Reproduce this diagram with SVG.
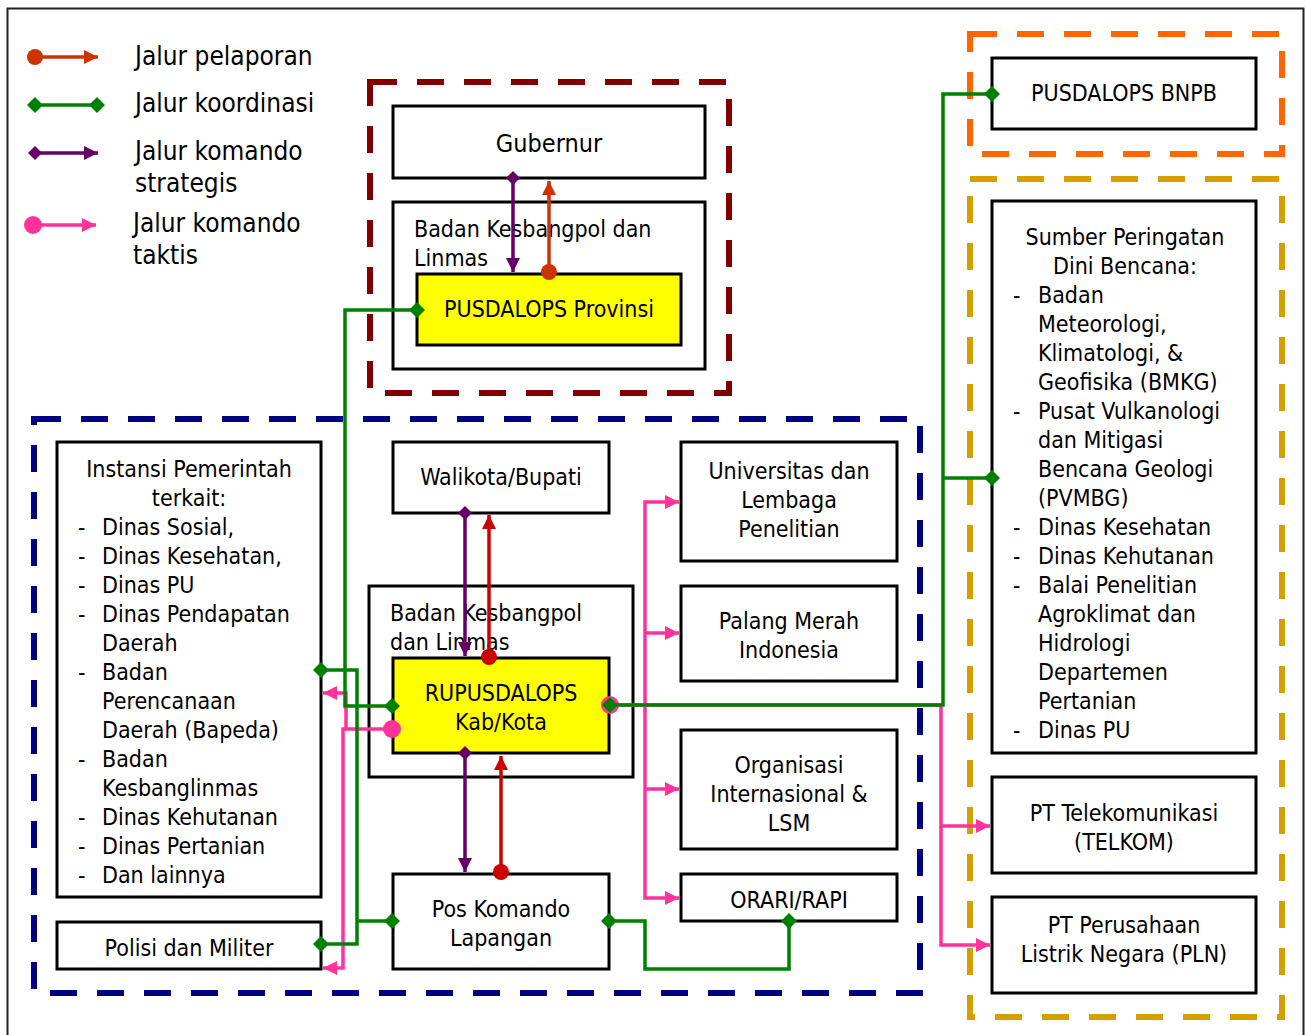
<svg xmlns="http://www.w3.org/2000/svg" width="1306" height="1035" viewBox="0 0 1306 1035">
<style>
text{font-family:"DejaVu Sans Condensed","DejaVu Sans",sans-serif;font-stretch:condensed;font-size:23px;fill:#000}
.c{text-anchor:middle}
.lg{font-size:26px}
.box{fill:#fff;stroke:#000;stroke-width:3}
.open{fill:none;stroke:#000;stroke-width:3}
.yel{fill:#ffff00;stroke:#000;stroke-width:3}
.dash{fill:none;stroke-width:6;stroke-dasharray:27 20}
.ln{fill:none;stroke-width:3.5}
.rep{stroke:#cc3300}
.red{stroke:#cc0000}
.grn{stroke:#008000}
.pur{stroke:#660066}
.pnk{stroke:#ff3399}
</style>
<defs>
<marker id="aRep" markerUnits="userSpaceOnUse" markerWidth="16" markerHeight="16" refX="15" refY="8" orient="auto"><path d="M1,1 L15,8 L1,15 z" fill="#cc3300"/></marker>
<marker id="aRed" markerUnits="userSpaceOnUse" markerWidth="16" markerHeight="16" refX="15" refY="8" orient="auto"><path d="M1,1 L15,8 L1,15 z" fill="#cc0000"/></marker>
<marker id="aPur" markerUnits="userSpaceOnUse" markerWidth="16" markerHeight="16" refX="15" refY="8" orient="auto"><path d="M1,1 L15,8 L1,15 z" fill="#660066"/></marker>
<marker id="aPnk" markerUnits="userSpaceOnUse" markerWidth="16" markerHeight="16" refX="15" refY="8" orient="auto"><path d="M1,1 L15,8 L1,15 z" fill="#ff3399"/></marker>
<marker id="dGrn" markerUnits="userSpaceOnUse" markerWidth="16" markerHeight="16" refX="8" refY="8" orient="auto"><path d="M0,8 L8,0 L16,8 L8,16 z" fill="#008000"/></marker>
<marker id="dPur" markerUnits="userSpaceOnUse" markerWidth="16" markerHeight="16" refX="8" refY="8" orient="auto"><path d="M1,8 L8,1 L15,8 L8,15 z" fill="#660066"/></marker>
<marker id="cRep" markerUnits="userSpaceOnUse" markerWidth="18" markerHeight="18" refX="9" refY="9" orient="auto"><circle cx="9" cy="9" r="8" fill="#cc3300"/></marker>
<marker id="cRed" markerUnits="userSpaceOnUse" markerWidth="18" markerHeight="18" refX="9" refY="9" orient="auto"><circle cx="9" cy="9" r="8" fill="#cc0000"/></marker>
<marker id="cPnk" markerUnits="userSpaceOnUse" markerWidth="20" markerHeight="20" refX="10" refY="10" orient="auto"><circle cx="10" cy="10" r="9" fill="#ff3399"/></marker>
</defs>
<rect x="0" y="0" width="1306" height="1035" fill="#fff"/>
<rect x="7.5" y="8.5" width="1296" height="1040" fill="none" stroke="#222" stroke-width="2"/>

<!-- legend -->
<g id="legend">
<path class="ln rep" d="M35,57 H98" marker-start="url(#cRep)" marker-end="url(#aRep)"/>
<text class="lg" x="135" y="65">Jalur pelaporan</text>
<path class="ln grn" d="M35,105 H97" marker-start="url(#dGrn)" marker-end="url(#dGrn)"/>
<text class="lg" x="135" y="112">Jalur koordinasi</text>
<path class="ln pur" d="M35,153 H98" marker-start="url(#dPur)" marker-end="url(#aPur)"/>
<text class="lg" x="135" y="160">Jalur komando</text>
<text class="lg" x="135" y="192">strategis</text>
<path class="ln pnk" d="M33,225 H96" marker-start="url(#cPnk)" marker-end="url(#aPnk)"/>
<text class="lg" x="133" y="232">Jalur komando</text>
<text class="lg" x="133" y="264">taktis</text>
</g>

<!-- group frames -->
<g id="frames">
<rect class="dash" x="370" y="82" width="359" height="311" stroke="#800000"/>
<rect class="dash" x="970" y="34" width="312" height="120" stroke="#ff6600"/>
<rect class="dash" x="970" y="179" width="312" height="838" stroke="#d4a000"/>
<rect class="dash" x="34" y="419" width="886" height="574" stroke="#000080"/>
</g>

<!-- nodes -->
<g id="gubernur"><rect class="box" x="393" y="106" width="312" height="72"/><text class="c" x="549" y="152" style="font-size:25px">Gubernur</text></g>
<g id="kesbangpol-prov"><rect class="open" x="393" y="202" width="312" height="167"/><text x="414" y="237">Badan Kesbangpol dan</text><text x="414" y="266">Linmas</text></g>
<g id="pusdalops-prov"><rect class="yel" x="417" y="274" width="264" height="71"/><text class="c" x="549" y="317">PUSDALOPS Provinsi</text></g>
<g id="pusdalops-bnpb"><rect class="box" x="992" y="58" width="264" height="71"/><text class="c" x="1124" y="101">PUSDALOPS BNPB</text></g>
<g id="sumber"><rect class="open" x="992" y="201" width="264" height="552"/>
<text class="c" x="1125" y="245">Sumber Peringatan</text>
<text class="c" x="1125" y="274">Dini Bencana:</text>
<text x="1013" y="303">-</text><text x="1038" y="303">Badan</text>
<text x="1038" y="332">Meteorologi,</text>
<text x="1038" y="361">Klimatologi, &amp;</text>
<text x="1038" y="390">Geofisika (BMKG)</text>
<text x="1013" y="419">-</text><text x="1038" y="419">Pusat Vulkanologi</text>
<text x="1038" y="448">dan Mitigasi</text>
<text x="1038" y="477">Bencana Geologi</text>
<text x="1038" y="506">(PVMBG)</text>
<text x="1013" y="535">-</text><text x="1038" y="535">Dinas Kesehatan</text>
<text x="1013" y="564">-</text><text x="1038" y="564">Dinas Kehutanan</text>
<text x="1013" y="593">-</text><text x="1038" y="593">Balai Penelitian</text>
<text x="1038" y="622">Agroklimat dan</text>
<text x="1038" y="651">Hidrologi</text>
<text x="1038" y="680">Departemen</text>
<text x="1038" y="709">Pertanian</text>
<text x="1013" y="738">-</text><text x="1038" y="738">Dinas PU</text>
</g>
<g id="telkom"><rect class="box" x="992" y="777" width="264" height="96"/><text class="c" x="1124" y="821">PT Telekomunikasi</text><text class="c" x="1124" y="850">(TELKOM)</text></g>
<g id="pln"><rect class="box" x="992" y="897" width="264" height="96"/><text class="c" x="1124" y="933">PT Perusahaan</text><text class="c" x="1124" y="962">Listrik Negara (PLN)</text></g>
<g id="instansi"><rect class="open" x="57" y="442" width="264" height="455"/>
<text class="c" x="189" y="477">Instansi Pemerintah</text>
<text class="c" x="189" y="506">terkait:</text>
<text x="78" y="535">-</text><text x="102" y="535">Dinas Sosial,</text>
<text x="78" y="564">-</text><text x="102" y="564">Dinas Kesehatan,</text>
<text x="78" y="593">-</text><text x="102" y="593">Dinas PU</text>
<text x="78" y="622">-</text><text x="102" y="622">Dinas Pendapatan</text>
<text x="102" y="651">Daerah</text>
<text x="78" y="680">-</text><text x="102" y="680">Badan</text>
<text x="102" y="709">Perencanaan</text>
<text x="102" y="738">Daerah (Bapeda)</text>
<text x="78" y="767">-</text><text x="102" y="767">Badan</text>
<text x="102" y="796">Kesbanglinmas</text>
<text x="78" y="825">-</text><text x="102" y="825">Dinas Kehutanan</text>
<text x="78" y="854">-</text><text x="102" y="854">Dinas Pertanian</text>
<text x="78" y="883">-</text><text x="102" y="883">Dan lainnya</text>
</g>
<g id="polisi"><rect class="open" x="57" y="922" width="264" height="47"/><text class="c" x="189" y="956">Polisi dan Militer</text></g>
<g id="walikota"><rect class="box" x="393" y="442" width="216" height="71"/><text class="c" x="501" y="485">Walikota/Bupati</text></g>
<g id="kesbangpol-kab"><rect class="open" x="369" y="586" width="264" height="191"/><text x="390" y="621">Badan Kesbangpol</text><text x="390" y="650">dan Linmas</text></g>
<g id="rupusdalops"><rect class="yel" x="393" y="658" width="216" height="95"/><text class="c" x="501" y="701">RUPUSDALOPS</text><text class="c" x="501" y="730">Kab/Kota</text></g>
<g id="poskomando"><rect class="box" x="393" y="874" width="216" height="95"/><text class="c" x="501" y="917">Pos Komando</text><text class="c" x="501" y="946">Lapangan</text></g>
<g id="universitas"><rect class="box" x="681" y="442" width="216" height="119"/><text class="c" x="789" y="479">Universitas dan</text><text class="c" x="789" y="508">Lembaga</text><text class="c" x="789" y="537">Penelitian</text></g>
<g id="pmi"><rect class="box" x="681" y="586" width="216" height="95"/><text class="c" x="789" y="629">Palang Merah</text><text class="c" x="789" y="658">Indonesia</text></g>
<g id="organisasi"><rect class="box" x="681" y="730" width="216" height="119"/><text class="c" x="789" y="773">Organisasi</text><text class="c" x="789" y="802">Internasional &amp;</text><text class="c" x="789" y="831">LSM</text></g>
<g id="orari"><rect class="box" x="681" y="874" width="216" height="47"/><text class="c" x="789" y="908">ORARI/RAPI</text></g>

<!-- connectors -->
<g id="connectors">
<path class="ln pur" d="M513,178 V272" marker-start="url(#dPur)" marker-end="url(#aPur)"/>
<path class="ln rep" d="M549,272 V181" marker-start="url(#cRep)" marker-end="url(#aRep)"/>
<path class="ln pur" d="M465,513 V656" marker-start="url(#dPur)" marker-end="url(#aPur)"/>
<path class="ln red" d="M489,657 V515" marker-start="url(#cRed)" marker-end="url(#aRed)"/>
<path class="ln pur" d="M465,753 V872" marker-start="url(#dPur)" marker-end="url(#aPur)"/>
<path class="ln red" d="M501,872 V756" marker-start="url(#cRed)" marker-end="url(#aRed)"/>
<!-- tactical pink left -->
<path class="ln pnk" d="M392,729 H343 V968 H323" marker-start="url(#cPnk)" marker-end="url(#aPnk)"/>
<path class="ln pnk" d="M346,729 V693 H323" marker-end="url(#aPnk)"/>
<!-- tactical pink right -->
<path class="ln pnk" d="M610,705 H941 V826 H990" marker-start="url(#cPnk)" marker-end="url(#aPnk)"/>
<path class="ln pnk" d="M941,826 V945 H990" marker-end="url(#aPnk)"/>
<path class="ln pnk" d="M645,705 V502 H679" marker-end="url(#aPnk)"/>
<path class="ln pnk" d="M645,633 H679" marker-end="url(#aPnk)"/>
<path class="ln pnk" d="M645,705 V898 H679" marker-end="url(#aPnk)"/>
<path class="ln pnk" d="M645,789 H679" marker-end="url(#aPnk)"/>
<!-- coordination green -->
<path class="ln grn" d="M417,310 H345 V706 H392" marker-start="url(#dGrn)" marker-end="url(#dGrn)"/>
<path class="ln grn" d="M321,670 H357 V944 H321" marker-start="url(#dGrn)" marker-end="url(#dGrn)"/>
<path class="ln grn" d="M357,921 H392" marker-end="url(#dGrn)"/>
<path class="ln grn" d="M610,705 H943 V94 H992" marker-start="url(#dGrn)" marker-end="url(#dGrn)"/>
<path class="ln grn" d="M943,478 H992" marker-end="url(#dGrn)"/>
<path class="ln grn" d="M609,921 H645 V969 H789 V921" marker-start="url(#dGrn)" marker-end="url(#dGrn)"/>
</g>
</svg>
